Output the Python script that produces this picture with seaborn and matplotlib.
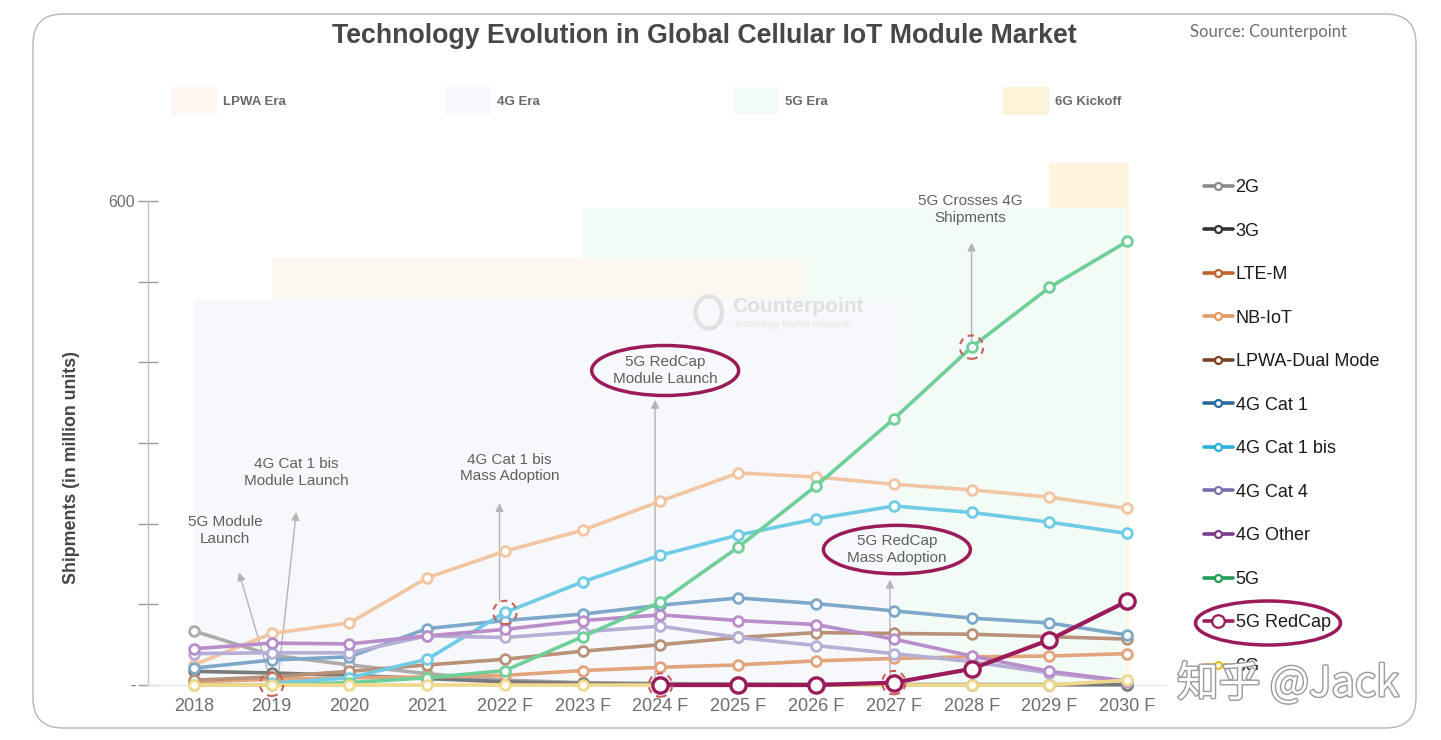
import numpy as np
import pandas as pd
import seaborn as sns
import matplotlib
matplotlib.use("Agg")
import matplotlib.pyplot as plt
from matplotlib.lines import Line2D
from matplotlib.patches import Rectangle, Ellipse, FancyBboxPatch
import matplotlib.patheffects as pe

# ---------------- data ----------------
years = [2018, 2019, 2020, 2021, 2022, 2023, 2024, 2025, 2026, 2027, 2028, 2029, 2030]
year_labels = ["2018", "2019", "2020", "2021", "2022 F", "2023 F", "2024 F", "2025 F",
               "2026 F", "2027 F", "2028 F", "2029 F", "2030 F"]
nan = np.nan
g2 = [67, 37, 25, 14, 6, 3, 2, 1, 1, 0.5, 0.5, 0.5, 0.5]
g3 = [17, 15, 12, 8, 4, 2, 1, 1, 0.5, 0.5, 0.5, 0.5, 0.5]
lte_m = [4, 7, 9, 10, 12, 18, 22, 25, 30, 33, 35, 36, 39]
nb_iot = [25, 64, 77, 133, 166, 192, 228, 263, 258, 249, 242, 233, 219]
lpwa_dual = [6, 10, 17, 25, 32, 42, 50, 59, 65, 64, 63, 60, 57]
cat1 = [21, 31, 35, 70, 80, 88, 99, 108, 101, 92, 83, 77, 62]
cat1_bis = [nan, 2, 9, 32, 90, 128, 161, 186, 206, 222, 214, 202, 188]
cat4 = [39, 40, 40, 61, 59, 66, 73, 59, 49, 39, 29, 15, 4]
g4_other = [45, 52, 51, 61, 69, 80, 87, 80, 75, 57, 36, 17, 5]
g5 = [0, 0, 3, 9, 18, 60, 103, 171, 247, 330, 419, 493, 550]
redcap = [nan, nan, nan, nan, nan, nan, 0, 0, 0, 3, 20, 56, 104]
g6 = [0, 0, 0, 0, 0, 0, 0, 0, 0, 0, 0, 0, 6]

series_names = ["2G", "3G", "LTE-M", "NB-IoT", "LPWA-Dual Mode", "4G Cat 1", "4G Cat 1 bis",
                "4G Cat 4", "4G Other", "5G", "5G RedCap", "6G"]
series_values = [g2, g3, lte_m, nb_iot, lpwa_dual, cat1, cat1_bis, cat4, g4_other, g5, redcap, g6]

line_colors = ["#acacac", "#7a7a7a", "#e2a47c", "#f1c5a2", "#b99179", "#7ea8c9",
               "#6fcbe6", "#b6aed5", "#b98dc9", "#6fcf99", "#9b1b5a", "#f1d98b"]
legend_colors = ["#8a8a8a", "#333333", "#c0622a", "#e09a66", "#7a4422", "#2a6aa0",
                 "#2ab0d8", "#7870a8", "#7a3a8a", "#1fa055", "#9b1b5a", "#e6c020"]

era_labels = ["LPWA Era", "4G Era", "5G Era", "6G Kickoff"]
era_colors = ["#fdf6f1", "#f7f8fb", "#f2fbf5", "#fdf3d9"]

# ---------------- figure ----------------
sns.set_theme(style="white")
plt.rcParams["font.family"] = ["Liberation Sans", "DejaVu Sans"]

W, H = 1441, 740
fig = plt.figure(figsize=(W / 100, H / 100), dpi=100)
fig.patch.set_facecolor("white")

# rounded frame
frame = FancyBboxPatch((0.33, 0.12), 13.83, 7.14, boxstyle="round,pad=0,rounding_size=0.3",
                       transform=fig.dpi_scale_trans, fc="none", ec="#b5b5b5", lw=1.0)
fig.patches.append(frame)

ax = fig.add_axes([148 / W, (H - 691.5) / H, 1018 / W, 571 / H])
ax.set_facecolor("none")
ax.set_xlim(2017.41, 2030.5)
ax.set_ylim(-8, 700)

# era background areas
ax.add_patch(Rectangle((2029, 0), 1.03, 647, fc="#fef5dc", ec="none", zorder=0))
ax.add_patch(Rectangle((2023, 0), 7, 591, fc="#f3fbf6", ec="none", zorder=0.1))
ax.add_patch(Rectangle((2019, 0), 6.83, 530, fc="#fdf7f2", ec="none", zorder=0.2))
ax.add_patch(Rectangle((2018, 0), 9.05, 477, fc="#f7f8fb", ec="none", zorder=0.3))

# watermark
ax.text(2024.92, 469, "Counterpoint", fontsize=15, fontweight="bold", color="#e0e0e0",
        ha="left", va="center", zorder=0.5)
ax.text(2024.94, 447, "Technology Market Research", fontsize=6.5, color="#e4e4e4",
        ha="left", va="center", zorder=0.5)
ax.add_patch(Ellipse((2024.62, 462), 0.34, 40, fc="none", ec="#e0e0e0", lw=3, zorder=0.5))

# lines
for i, (name, vals) in enumerate(zip(series_names, series_values)):
    df = pd.DataFrame({"year": years, "value": vals}).dropna()
    c = line_colors[i]
    big = name == "5G RedCap"
    sns.lineplot(data=df, x="year", y="value", ax=ax, color=c, linewidth=3 if big else 2.6,
                 marker="o", markersize=11 if big else 7, markerfacecolor="white",
                 markeredgecolor=c, markeredgewidth=2.4 if big else 2.0,
                 zorder=10 if big else 3 + i * 0.1, clip_on=False, legend=False)

# axes styling
for s in ["top", "right"]:
    ax.spines[s].set_visible(False)
ax.spines["left"].set_bounds(0, 600)
ax.spines["left"].set_color("#c2c2c2")
ax.spines["left"].set_linewidth(1)
ax.spines["bottom"].set_position(("data", 0))
ax.spines["bottom"].set_color("#e8e8e8")
ax.spines["bottom"].set_linewidth(1)

ax.set_yticks([0, 100, 200, 300, 400, 500, 600])
ax.set_yticklabels(["-", "", "", "", "", "", "600"])
ax.tick_params(axis="y", direction="inout", length=14.5, width=1, color="#9a9a9a",
               labelcolor="#6e6e6e", labelsize=11.5, pad=2, left=True)
ax.set_xticks(years)
ax.set_xticklabels(year_labels)
ax.tick_params(axis="x", length=0, labelcolor="#6e6e6e", labelsize=13, pad=9)
ax.set_xlabel("")
ax.set_ylabel("")
ax.grid(False)

# annotations
arrow_kw = dict(arrowstyle="-|>", color="#b4b4b4", lw=1.0, mutation_scale=12)
txt_kw = dict(fontsize=11, color="#606060", ha="center", va="center", linespacing=1.25)


def note(text, xy, xytext_arrow, xytext_label):
    ax.annotate("", xy=xytext_arrow, xytext=xy, arrowprops=arrow_kw, zorder=2)
    ax.text(*xytext_label, text, zorder=2, **txt_kw)


note("5G Module\nLaunch", (years[1], 1), (2018.57, 143), (2018.4, 192))
note("4G Cat 1 bis\nModule Launch", (2019.08, 6), (2019.32, 218), (2019.32, 264))
note("4G Cat 1 bis\nMass Adoption", (2021.93, 100), (2021.93, 229), (2022.06, 269))
note("5G RedCap\nModule Launch", (2023.93, 1), (2023.93, 357), (2024.06, 390))
note("5G RedCap\nMass Adoption", (2026.95, 2), (2026.95, 134), (2027.04, 168))
note("5G Crosses 4G\nShipments", (years[10], g5[10]), (years[10], 552), (2027.98, 590))

# highlight ellipses
ax.add_patch(Ellipse((2024.06, 390), 1.89, 62, fc="none", ec="#9b1b5a", lw=2.5, zorder=12))
ax.add_patch(Ellipse((2027.04, 168), 1.89, 60, fc="none", ec="#9b1b5a", lw=2.5, zorder=12))

# dashed circles
for (cx, cy) in [(years[1], 1), (years[4], cat1_bis[4]), (years[6], redcap[6]),
                 (years[9], redcap[9]), (years[10], g5[10])]:
    ax.add_patch(Ellipse((cx, cy), 0.3, 29, fc="none", ec="#c8605a", lw=1.5,
                         ls=(0, (3, 2.5)), zorder=11, clip_on=False))

# title & source
fig.text(704 / W, 1 - 36 / H, "Technology Evolution in Global Cellular IoT Module Market",
         fontsize=19.3, fontweight="bold", color="#474747", ha="center", va="center")
fig.text(1190 / W, 1 - 32 / H, "Source: Counterpoint", fontsize=12, color="#6e6e6e",
         ha="left", va="center", family=["Lato", "DejaVu Sans"])

# y label
fig.text(72 / W, 1 - 468 / H, "Shipments (in million units)", rotation=90, fontsize=12.8,
         fontweight="bold", color="#454545", ha="center", va="center")

# era legend
era_x = [171, 445, 733, 1003]
for x0, lab, col in zip(era_x, era_labels, era_colors):
    fig.patches.append(Rectangle((x0 / W, 1 - 115 / H), 46 / W, 28 / H, transform=fig.transFigure,
                                 fc=col, ec="none"))
    fig.text((x0 + 52) / W, 1 - 102 / H, lab, fontsize=9.5, fontweight="bold", color="#6a6a6a",
             ha="left", va="center")

# series legend
handles = [Line2D([0], [0], color=c, lw=2.6, marker="o",
                  markersize=5 if n != "5G RedCap" else 9, markerfacecolor="white",
                  markeredgecolor=c, markeredgewidth=1.6)
           for n, c in zip(series_names, legend_colors)]
leg = fig.legend(handles, series_names, loc="upper left", bbox_to_anchor=(1204 / W, 1 - 179 / H),
                 frameon=False, fontsize=13, labelspacing=1.47, handlelength=1.6,
                 handletextpad=0.15, borderpad=0, borderaxespad=0)
for t in leg.get_texts():
    t.set_color("#1a1a1a")

# legend highlight ellipse
fig.patches.append(Ellipse((1268 / W, 1 - 623 / H), 145 / W, 44 / H, transform=fig.transFigure,
                           fc="none", ec="#9b1b5a", lw=2.5))

# watermark
fig.text(1288 / W, 1 - 684 / H, "知乎 @Jack", fontsize=30, color="white",
         family=["Noto Sans CJK SC", "DejaVu Sans"], ha="center", va="center",
         path_effects=[pe.withStroke(linewidth=2, foreground="#9a9a9a")], zorder=20)

fig.savefig("out.png", dpi=100)
